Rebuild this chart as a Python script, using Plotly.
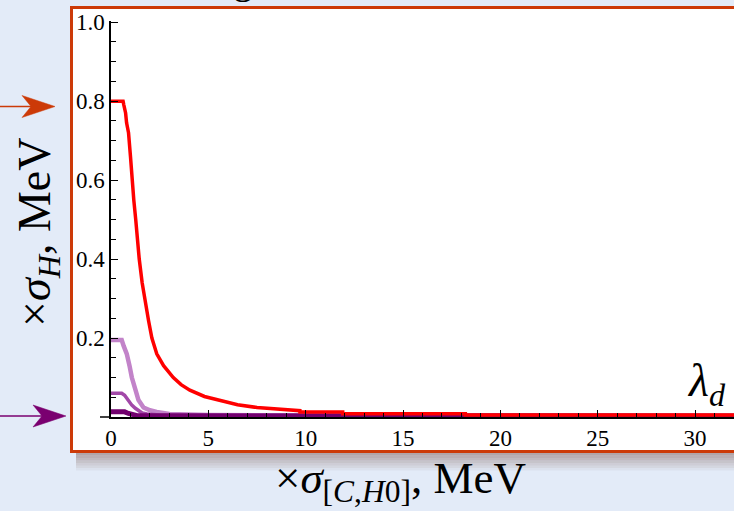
import plotly.graph_objects as go

# ---------------- data ----------------
red_x = [0, 0.62, 0.66, 0.75, 0.8, 0.9, 1.0, 1.07, 1.17, 1.27, 1.35, 1.45, 1.6, 1.75, 1.93,
         2.1, 2.35, 2.7, 3.2, 3.6, 4.05, 4.8, 5.75, 6.5, 7.5, 9.0, 9.7, 9.7, 11.9, 11.9, 18.2, 18.2, 32]
red_y = [0.80, 0.80, 0.79, 0.77, 0.745, 0.72, 0.66, 0.60, 0.55, 0.50, 0.45, 0.40, 0.34, 0.29, 0.244,
         0.20, 0.16, 0.13, 0.10, 0.082, 0.068, 0.052, 0.039, 0.031, 0.024, 0.018, 0.016, 0.0125, 0.0125,
         0.0085, 0.0085, 0.005, 0.005]

light_x = [0, 0.55, 0.65, 0.81, 0.95, 1.07, 1.25, 1.41, 1.67, 2.0, 2.35, 3.0, 5.0, 10.0, 32]
light_y = [0.195, 0.195, 0.18, 0.16, 0.13, 0.10, 0.07, 0.043, 0.024, 0.017, 0.013, 0.0075, 0.005, 0.004, 0.003]

mid_x = [0, 0.55, 0.7, 0.81, 0.95, 1.07, 1.25, 1.41, 1.6, 1.85, 2.5, 32]
mid_y = [0.06, 0.06, 0.055, 0.047, 0.038, 0.030, 0.022, 0.016, 0.010, 0.0075, 0.005, 0.004]

dark_x = [0, 0.7, 0.9, 1.1, 1.4, 32]
dark_y = [0.013, 0.013, 0.009, 0.006, 0.003, 0.002]

x_ticks = [0, 5, 10, 15, 20, 25, 30]
y_ticks = [0.2, 0.4, 0.6, 0.8, 1.0]
y_tick_labels = ["0.2", "0.4", "0.6", "0.8", "1.0"]

# ---------------- layout geometry ----------------
W, H = 734, 511
L, R, T, B = 111, 0, 21, 94
PW, PH = W - L - R, H - T - B


def px(xp):
    return (xp - L) / PW


def py(yp):
    return (H - B - yp) / PH


FONT = "Liberation Serif"
BG = "#e3ebf8"
ORANGE = "#cc3a08"
PURPLE = "#7a0070"

fig = go.Figure()
fig.add_trace(go.Scatter(x=light_x, y=light_y, mode="lines", line=dict(color="#c283c9", width=4.5),
                         hoverinfo="skip"))
fig.add_trace(go.Scatter(x=mid_x, y=mid_y, mode="lines", line=dict(color="#a248a8", width=3.5),
                         hoverinfo="skip"))
fig.add_trace(go.Scatter(x=dark_x, y=dark_y, mode="lines", line=dict(color="#72006e", width=5),
                         hoverinfo="skip"))
fig.add_trace(go.Scatter(x=red_x, y=red_y, mode="lines", line=dict(color="#ff0000", width=3.5),
                         hoverinfo="skip"))

shapes = []
# shadow below the panel
for i in range(7):
    a = 0.42 * (1 - i / 7)
    shapes.append(dict(type="rect", xref="paper", yref="paper", layer="below",
                       x0=px(76), x1=px(745), y0=py(453 + 2.5 * (i + 1)), y1=py(453 + 2.5 * i),
                       fillcolor=f"rgba(110,70,60,{a:.3f})", line=dict(width=0)))
# white panel with orange frame
shapes.append(dict(type="rect", xref="paper", yref="paper", layer="below",
                   x0=px(71.5), x1=px(745), y0=py(451.5), y1=py(7.5),
                   fillcolor="white", line=dict(color=ORANGE, width=3)))
# x-axis line stub left of y axis
shapes.append(dict(type="line", xref="paper", yref="paper", x0=px(100), x1=0, y0=0, y1=0,
                   line=dict(color="black", width=1.5)))


def arrow(yc, tip, color):
    shapes.append(dict(type="line", xref="paper", yref="paper", x0=px(0), x1=px(tip - 20),
                       y0=py(yc), y1=py(yc), line=dict(color=color, width=1.6)))
    path = (f"M {px(tip)} {py(yc)} L {px(tip - 33)} {py(yc - 11)} L {px(tip - 24)} {py(yc)} "
            f"L {px(tip - 33)} {py(yc + 11)} Z")
    shapes.append(dict(type="path", xref="paper", yref="paper", path=path,
                       fillcolor=color, line=dict(color=color, width=0.5)))


arrow(106.5, 55, ORANGE)
arrow(416, 66, PURPLE)

annotations = [
    dict(text="×<i>σ</i><sub><i>H</i></sub>, MeV", xref="paper", yref="paper", x=px(38), y=py(233),
         textangle=-90, showarrow=False, xanchor="center", yanchor="middle",
         font=dict(family=FONT, size=46, color="black")),
    dict(text="×<i>σ</i><sub>[<i>C</i>,<i>H</i>0]</sub>, MeV", xref="paper", yref="paper",
         x=px(400), y=py(481), showarrow=False, xanchor="center", yanchor="middle",
         font=dict(family=FONT, size=45, color="black")),
    dict(text="<i>λ</i><sub><i>d</i></sub>", xref="paper", yref="paper", x=px(706), y=py(384),
         showarrow=False, xanchor="center", yanchor="middle",
         font=dict(family=FONT, size=46, color="black")),
    dict(text="g", xref="paper", yref="paper", x=px(243), y=py(4.5), showarrow=False,
         xanchor="center", yanchor="bottom", font=dict(family=FONT, size=40, color="black")),
]

fig.update_layout(
    width=W, height=H,
    margin=dict(l=L, r=R, t=T, b=B),
    paper_bgcolor=BG, plot_bgcolor="rgba(0,0,0,0)",
    showlegend=False,
    font=dict(family=FONT, size=23, color="black"),
    shapes=shapes, annotations=annotations,
    xaxis=dict(range=[0, 32], showgrid=False, zeroline=False, showline=True, linecolor="black", linewidth=1.5,
               ticks="inside", ticklen=7, tickwidth=1.3, tickcolor="black",
               tickvals=x_ticks, ticktext=[str(v) for v in x_ticks],
               minor=dict(dtick=1, tick0=0, ticks="inside", ticklen=4, tickwidth=1, tickcolor="black"),
               tickfont=dict(family=FONT, size=23)),
    yaxis=dict(range=[0, 1.003], showgrid=False, zeroline=False, showline=True, linecolor="black", linewidth=1.5,
               ticks="inside", ticklen=7, tickwidth=1.3, tickcolor="black",
               tickvals=y_ticks, ticktext=y_tick_labels,
               minor=dict(dtick=0.05, tick0=0, ticks="inside", ticklen=5, tickwidth=1, tickcolor="black"),
               tickfont=dict(family=FONT, size=23)),
)

fig.write_html("out.html", config={"displayModeBar": False},
               post_script="document.body.style.margin='0';document.body.style.overflow='hidden';")
